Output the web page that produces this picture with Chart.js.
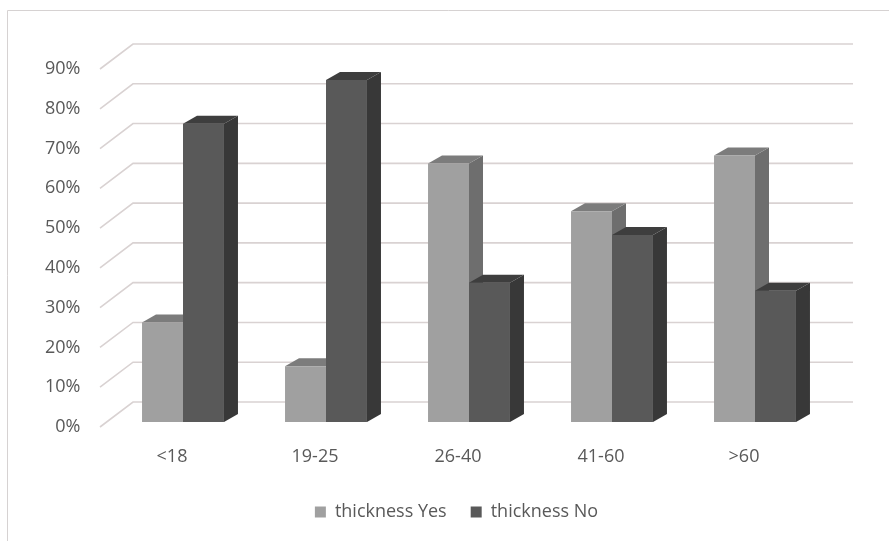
<!DOCTYPE html>
<html>
<head>
<meta charset="utf-8">
<script src="https://cdn.jsdelivr.net/npm/chart.js@4"></script>
<style>
  html,body{margin:0;padding:0;background:#fff;}
  #wrap{width:889px;height:541px;position:relative;}
</style>
</head>
<body>
<div id="wrap"><canvas id="chart" width="889" height="541"></canvas></div>
<script>
const categories = ['<18', '19-25', '26-40', '41-60', '>60'];
const thicknessYes = [25, 14, 65, 53, 67];
const thicknessNo = [75, 86, 35, 47, 33];
const yTicks = [0, 10, 20, 30, 40, 50, 60, 70, 80, 90];

const FONT = {family:"'Open Sans', sans-serif", size:18};
const TXT = '#595959';
const DX = 14, DY = -8; // bar depth
const GRID = '#d9d2d2';

// fake 3d: back wall grid + side/top faces
const box3d = {
  id:'box3d',
  beforeDraw(chart){
    const c = chart.ctx;
    c.save();
    c.strokeStyle = '#d6d2d2'; c.lineWidth = 1;
    c.beginPath();
    c.moveTo(7.5, 541); c.lineTo(7.5, 10.5); c.lineTo(889, 10.5);
    c.stroke();
    c.restore();
  },
  beforeDatasetsDraw(chart){
    const c = chart.ctx, a = chart.chartArea, y = chart.scales.y;
    c.save();
    c.strokeStyle = GRID; c.lineWidth = 1.6;
    yTicks.forEach(v=>{
      const p = y.getPixelForValue(v);
      c.beginPath();
      c.moveTo(a.left - 11.5, p + 5);
      c.lineTo(a.left + 21.5, p - 20);
      c.lineTo(a.right + 26.5, p - 20);
      c.stroke();
    });
    // sides/tops of the Yes bars go behind the No bars
    faces(chart, 0, '#6e6e6e', '#7c7c7c');
    c.restore();
  },
  afterDatasetsDraw(chart){
    faces(chart, 1, '#383838', '#3e3e3e');
  }
};

function faces(chart, di, side, top){
  const c = chart.ctx;
  chart.getDatasetMeta(di).data.forEach(b=>{
    const {x, y, base, width} = b.getProps(['x','y','base','width']);
    const l = x - width/2, r = x + width/2;
    c.fillStyle = side;
    c.beginPath();
    c.moveTo(r, y); c.lineTo(r + DX, y + DY); c.lineTo(r + DX, base + DY); c.lineTo(r, base);
    c.closePath(); c.fill();
    c.fillStyle = top;
    c.beginPath();
    c.moveTo(l, y); c.lineTo(l + DX, y + DY); c.lineTo(r + DX, y + DY); c.lineTo(r, y);
    c.closePath(); c.fill();
  });
}

new Chart(document.getElementById('chart'), {
  type:'bar',
  data:{
    labels:categories,
    datasets:[
      {label:'thickness Yes', data:thicknessYes, backgroundColor:'#a0a0a0'},
      {label:'thickness No', data:thicknessNo, backgroundColor:'#595959'}
    ]
  },
  options:{
    responsive:false,
    animation:false,
    categoryPercentage:0.573,
    barPercentage:1,
    layout:{padding:{top:64, left:24, right:0, bottom:10}},
    plugins:{
      tooltip:{enabled:false},
      legend:{
        position:'bottom',
        labels:{color:TXT, font:FONT, boxWidth:11, boxHeight:11, padding:24}
      }
    },
    scales:{
      x:{
        grid:{display:false, drawTicks:false},
        border:{display:false},
        ticks:{color:TXT, font:FONT, labelOffset:-11, padding:24},
        afterFit(s){ s.height = 57; }
      },
      y:{
        min:0, max:90,
        grid:{display:false, drawTicks:false},
        border:{display:false},
        ticks:{stepSize:10, color:TXT, font:FONT, labelOffset:5, padding:31, callback:v=>v+'%'},
        afterFit(s){ s.width = 87.5; }
      },
      yR:{
        position:'right',
        display:true,
        grid:{display:false, drawTicks:false},
        border:{display:false},
        ticks:{display:false},
        afterFit(s){ s.width = 62.5; }
      }
    }
  },
  plugins:[box3d]
});
</script>
</body>
</html>
